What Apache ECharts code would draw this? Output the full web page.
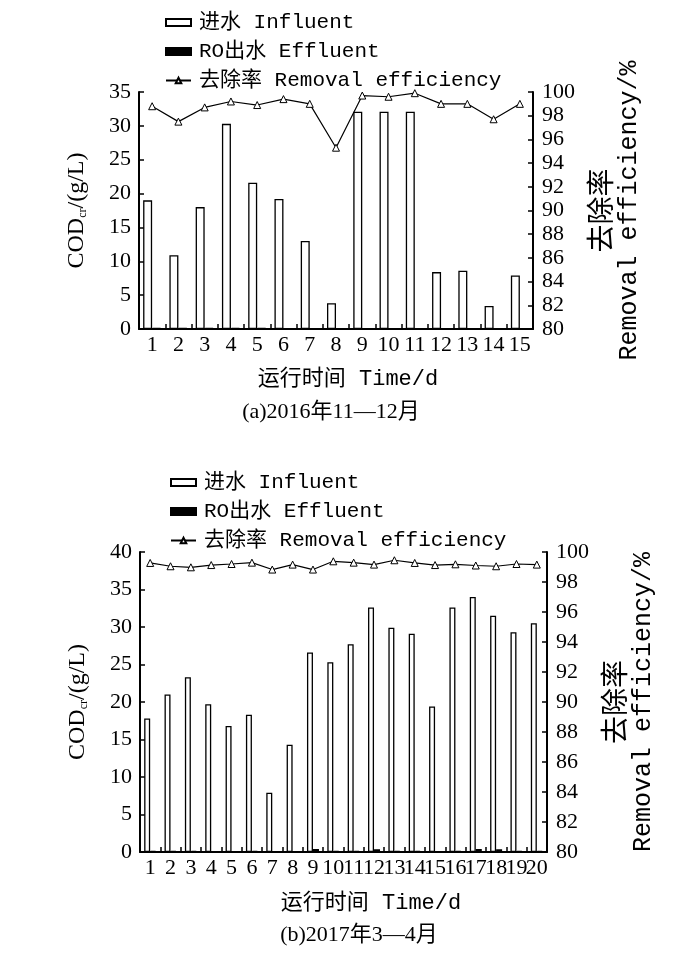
<!DOCTYPE html>
<html>
<head>
<meta charset="utf-8">
<script src="https://cdn.jsdelivr.net/npm/echarts@6/dist/echarts.min.js"></script>
<style>
html,body{margin:0;padding:0;background:#fff;}
#main{width:700px;height:954px;}
</style>
</head>
<body>
<div id="main"></div>
<script>
// ---- Data: (a) 2016年11—12月 ----
const daysA = ['1','2','3','4','5','6','7','8','9','10','11','12','13','14','15'];
const influentA = [19.0, 10.9, 18.0, 30.3, 21.6, 19.2, 13.0, 3.8, 32.1, 32.1, 32.1, 8.4, 8.6, 3.4, 7.9];
const effluentA = [0.15, 0.15, 0.15, 0.15, 0.15, 0.1, 0.1, 0.1, 0.1, 0.1, 0.1, 0.1, 0.1, 0.1, 0.1];
const removalA = [98.8, 97.5, 98.7, 99.2, 98.9, 99.4, 99.0, 95.3, 99.7, 99.6, 99.9, 99.0, 99.0, 97.7, 99.0];

// ---- Data: (b) 2017年3—4月 ----
const daysB = ['1','2','3','4','5','6','7','8','9','10','11','12','13','14','15','16','17','18','19','20'];
const influentB = [17.8, 21.0, 23.3, 19.7, 16.8, 18.3, 7.9, 14.3, 26.6, 25.3, 27.7, 32.6, 29.9, 29.1, 19.4, 32.6, 34.0, 31.5, 29.3, 30.5];
const effluentB = [0.15, 0.15, 0.15, 0.1, 0.1, 0.15, 0.1, 0.1, 0.4, 0.15, 0.15, 0.35, 0.15, 0.15, 0.1, 0.15, 0.4, 0.35, 0.15, 0.15];
const removalB = [99.27, 99.05, 98.98, 99.13, 99.2, 99.29, 98.83, 99.16, 98.83, 99.38, 99.29, 99.16, 99.45, 99.27, 99.13, 99.18, 99.1, 99.05, 99.2, 99.16];

const yLeftTicksA = {min: 0, max: 35, interval: 5};
const yLeftTicksB = {min: 0, max: 40, interval: 5};
const yRightTicks = {min: 80, max: 100, interval: 2};

const nameIn = '进水 Influent';
const nameOut = 'RO出水 Effluent';
const nameRem = '去除率 Removal efficiency';

const SERIF = "'Liberation Serif','Noto Sans CJK SC',serif";
const MONO = "'Liberation Mono','Noto Sans CJK SC',monospace";

const axisLine = {show: true, lineStyle: {color: '#000', width: 2}};
const axisTick = {show: true, inside: true, length: 5, lineStyle: {color: '#000', width: 1.5}};
const tickLabel = {color: '#000', fontFamily: SERIF, fontSize: 22};

function xAxisCfg(grid, data, margin) {
  return {
    type: 'category', gridIndex: grid, data: data, boundaryGap: true,
    axisLine: axisLine, axisTick: axisTick,
    axisLabel: Object.assign({interval: 0, margin: margin}, tickLabel),
    splitLine: {show: false}
  };
}
function yLeftCfg(grid, t) {
  return {
    type: 'value', gridIndex: grid, position: 'left', min: t.min, max: t.max, interval: t.interval,
    axisLine: axisLine, axisTick: axisTick, splitLine: {show: false},
    axisLabel: Object.assign({margin: 8}, tickLabel),
    name: '{a|COD}{s|cr}{a|/(g/L)}', nameLocation: 'middle', nameRotate: 90, nameGap: 50,
    nameTextStyle: {rich: {
      a: {fontFamily: SERIF, fontSize: 24, color: '#000'},
      s: {fontFamily: SERIF, fontSize: 12, color: '#000', padding: [12, 0, 0, 0]}
    }}
  };
}
function yRightCfg(grid, gap) {
  return {
    type: 'value', gridIndex: grid, position: 'right', min: yRightTicks.min, max: yRightTicks.max, interval: yRightTicks.interval,
    axisLine: axisLine, axisTick: axisTick, splitLine: {show: false},
    axisLabel: Object.assign({margin: 9}, tickLabel),
    name: '{c|去除率}\n{e|Removal efficiency/%}', nameLocation: 'middle', nameRotate: 90, nameGap: gap,
    nameTextStyle: {align: 'center', rich: {
      c: {fontFamily: "'Noto Sans CJK SC'", fontSize: 28, color: '#000', lineHeight: 30},
      e: {fontFamily: MONO, fontSize: 25, color: '#000', lineHeight: 28}
    }}
  };
}
function barSeries(name, data, xi, yi, width, fill) {
  return {
    name: name, type: 'bar', xAxisIndex: xi, yAxisIndex: yi, data: data,
    barWidth: width, barGap: '0%',
    itemStyle: {color: fill, borderColor: '#000', borderWidth: 1.3},
    emphasis: {disabled: true}
  };
}
function lineSeries(data, xi, yi) {
  return {
    name: nameRem, type: 'line', xAxisIndex: xi, yAxisIndex: yi, data: data,
    symbol: 'triangle', symbolSize: 7, showSymbol: true,
    lineStyle: {color: '#000', width: 1.2},
    itemStyle: {color: '#fff', borderColor: '#000', borderWidth: 1},
    emphasis: {disabled: true}
  };
}
function legendCfg(left, top) {
  return {
    orient: 'vertical', left: left, top: top, itemGap: 8,
    itemWidth: 25, itemHeight: 7,
    data: [{name: nameIn, icon: 'rect'}, {name: nameOut, icon: 'rect'}, {name: nameRem}],
    textStyle: {fontFamily: MONO, fontSize: 21, color: '#000', padding: [0, 0, 0, 3]},
    selectedMode: false
  };
}
function txt(x, y, s, font, size) {
  return {type: 'text', x: x, y: y, style: {text: s, fontFamily: font, fontSize: size, fill: '#000', textAlign: 'center', textVerticalAlign: 'middle'}};
}

const chart = echarts.init(document.getElementById('main'));
chart.setOption({
  animation: false,
  backgroundColor: '#fff',
  legend: [legendCfg(160, 7), legendCfg(165, 467)],
  grid: [
    {left: 139, top: 92, width: 394, height: 237},
    {left: 140, top: 552, width: 407, height: 300}
  ],
  xAxis: [xAxisCfg(0, daysA, 5), xAxisCfg(1, daysB, 5)],
  yAxis: [yLeftCfg(0, yLeftTicksA), yRightCfg(0, 45), yLeftCfg(1, yLeftTicksB), yRightCfg(1, 40)],
  series: [
    barSeries(nameIn, influentA, 0, 0, 9, '#fff'),
    barSeries(nameOut, effluentA, 0, 0, 9, '#000'),
    lineSeries(removalA, 0, 1),
    barSeries(nameIn, influentB, 1, 2, 6, '#fff'),
    barSeries(nameOut, effluentB, 1, 2, 6, '#000'),
    lineSeries(removalB, 1, 3)
  ],
  graphic: [
    txt(348, 379, '运行时间 Time/d', MONO, 22),
    txt(331, 412, '(a)2016年11—12月', SERIF, 22),
    txt(371, 903, '运行时间 Time/d', MONO, 22),
    txt(359, 935, '(b)2017年3—4月', SERIF, 22)
  ]
});
</script>
</body>
</html>
